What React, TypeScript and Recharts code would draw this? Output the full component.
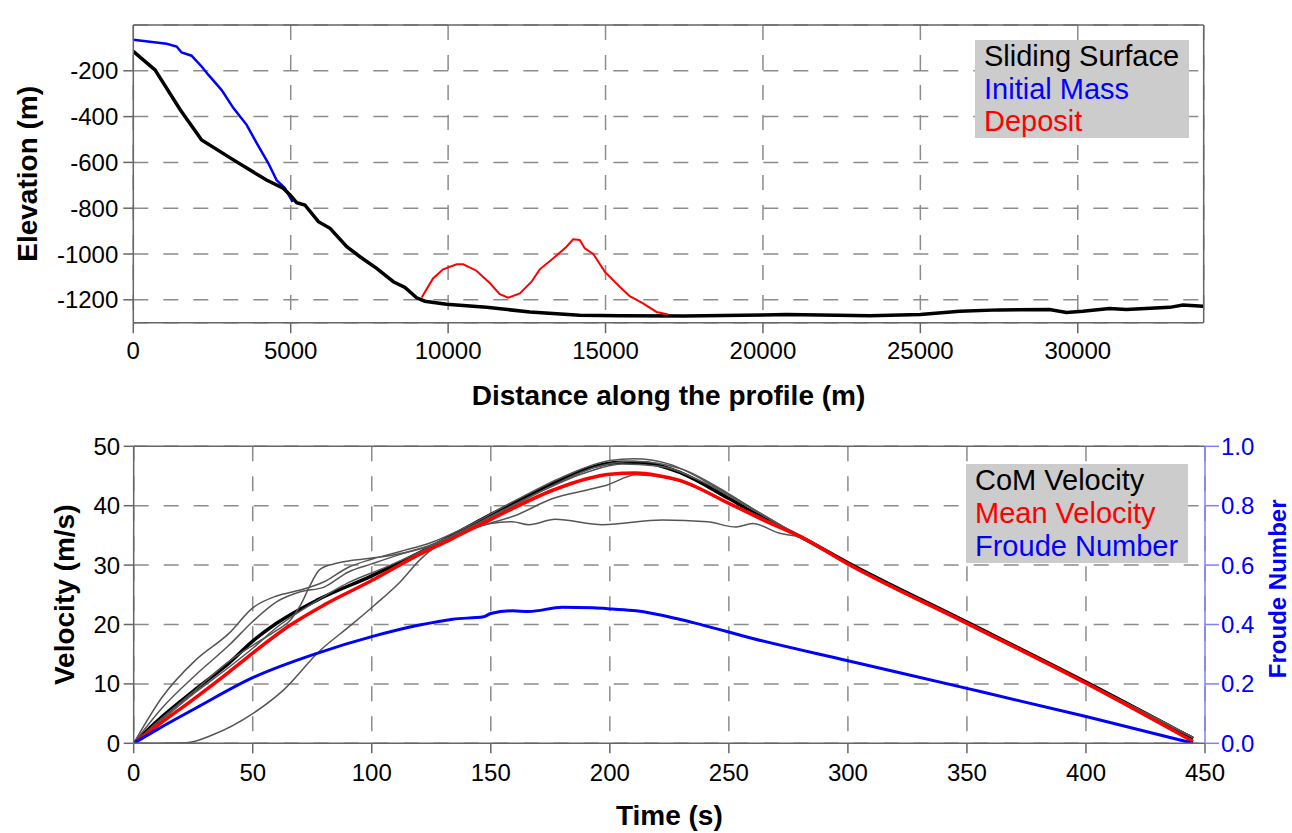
import { CartesianGrid, Legend, Line, LineChart, XAxis, YAxis } from 'recharts';

const FONT = '"Liberation Sans", Arial, Helvetica, sans-serif';

// ---- top panel: profile ----
const distTicks = [0, 5000, 10000, 15000, 20000, 25000, 30000];
const elevTicks = [-1200, -1000, -800, -600, -400, -200];

const slidingX = [0, 690, 1490, 2170, 3180, 4230, 4760, 4980, 5190, 5450, 5880, 6250, 6780, 7200, 7730, 8260, 8630, 9000, 9260, 9950, 11220, 12600, 14180, 15450, 17500, 20000, 20750, 23400, 25000, 26250, 27500, 29100, 29640, 30160, 31010, 31540, 32920, 33340, 33980];
const slidingY = [-115, -196, -370, -502, -589, -677, -713, -742, -776, -786, -859, -888, -968, -1012, -1063, -1121, -1146, -1191, -1206, -1219, -1233, -1253, -1267, -1270, -1271, -1266, -1264, -1270, -1264, -1250, -1244, -1242, -1255, -1250, -1238, -1242, -1233, -1223, -1228];

const initialX = [0, 1060, 1375, 1535, 1850, 2170, 2380, 2800, 3180, 3600, 3920, 4290, 4550, 4820, 5060];
const initialY = [-64, -82, -94, -120, -134, -181, -217, -283, -363, -436, -516, -604, -677, -713, -772];

const depositX = [9160, 9520, 9840, 10270, 10480, 10900, 11330, 11640, 11910, 12280, 12650, 12910, 13340, 13760, 13970, 14180, 14340, 14610, 14980, 15450, 15770, 16190, 16620, 16990];
const depositY = [-1190, -1107, -1067, -1045, -1045, -1073, -1128, -1175, -1191, -1172, -1121, -1067, -1019, -968, -936, -939, -975, -1000, -1078, -1143, -1184, -1216, -1253, -1264];

// ---- bottom panel: velocity ----
const timeTicks = [0, 50, 100, 150, 200, 250, 300, 350, 400, 450];
const velTicks = [0, 10, 20, 30, 40, 50];
const frTicks = [0, 0.2, 0.4, 0.6, 0.8, 1.0];

const meanT = [0, 10, 27, 40, 50, 65, 80, 100, 120, 133, 150, 176, 190, 200, 211, 220, 229, 250, 265, 280, 300, 350, 400, 445];
const meanV = [0, 3.0, 8.0, 12.0, 15.2, 19.7, 23.3, 27.4, 31.8, 34.3, 37.7, 42.6, 44.5, 45.3, 45.5, 45.1, 44.3, 40.4, 37.5, 34.8, 30.2, 20.2, 10.1, 0.3];

const comT = [0, 10, 27, 40, 50, 60, 77, 100, 125, 150, 175, 190, 205, 215, 230, 250, 265, 280, 300, 350, 400, 445];
const comV = [0, 3.8, 9.4, 13.5, 17.2, 20.2, 24.1, 28.2, 33.1, 38.5, 43.5, 46.2, 47.3, 47.2, 45.5, 41.2, 37.8, 34.8, 30.4, 20.4, 10.3, 0.8];

const frT = [0, 10, 26, 50, 77, 100, 120, 134, 147, 150, 159, 166, 180, 193, 201, 211, 228, 239, 260, 300, 350, 400, 445];
const frV = [0, 0.047, 0.118, 0.221, 0.303, 0.359, 0.398, 0.418, 0.426, 0.437, 0.446, 0.444, 0.458, 0.456, 0.452, 0.446, 0.42, 0.398, 0.353, 0.278, 0.185, 0.09, 0];

// individual (grey) velocity traces
const tailT = [300, 350, 400, 445];
const tailV = [30.3, 20.3, 10.2, 1.0];
const g1T = [0, 12, 26, 40, 50, 60, 70, 80, 90, 100, 112, 125, 140, 160, 180, 200, 210, 225, 245, 260, 280];
const g1V = [0, 7.8, 14, 18.5, 22.8, 24.8, 25.8, 27.2, 29.6, 31, 32.3, 33.8, 36.5, 40.8, 44.8, 47.6, 47.9, 47, 43, 39.5, 34.8];
const g2T = [0, 22, 33, 50, 63, 78, 91, 101, 112, 120, 130, 140, 150, 159, 166, 177, 197, 222, 241, 253, 260, 271, 280];
const g2V = [0, 0.1, 1.4, 5.0, 9.0, 15.5, 19.8, 23.2, 27.2, 30.8, 34.0, 35.8, 37.0, 37.3, 36.8, 37.7, 36.8, 37.6, 37.3, 36.4, 37.0, 35.4, 34.7];
const g3T = [0, 12, 26, 40, 50, 60, 66, 70, 74, 78, 84, 92, 100, 110, 122, 135, 150, 170, 190, 205, 220, 240, 258, 280];
const g3V = [0, 4.3, 9.0, 13.8, 16.5, 19.0, 20.8, 23.2, 26.5, 29.2, 30.2, 30.8, 31.2, 31.8, 33.0, 35.2, 38.2, 42.2, 45.6, 47.0, 46.7, 43.8, 39.8, 34.8];
const g4T = [0, 12, 26, 40, 50, 60, 75, 90, 105, 118, 130, 145, 160, 176, 190, 199, 211, 225, 250, 280];
const g4V = [0, 4, 8.6, 12.8, 16, 19.5, 23.5, 27.0, 29.5, 31.8, 34.0, 36.5, 38.3, 41.2, 42.6, 43.5, 45.2, 44.6, 40.5, 34.8];
const g5T = [0, 12, 26, 40, 50, 60, 70, 80, 90, 100, 112, 125, 140, 155, 175, 195, 210, 230, 250, 262, 280];
const g5V = [0, 6, 11.5, 16.5, 20.5, 23.8, 25.5, 26.3, 28.8, 30.2, 31.8, 33.3, 36.0, 39.0, 43.2, 46.6, 47.5, 46.2, 42.0, 39.0, 34.8];

const topLegend = [
  { name: 'Sliding Surface', color: '#000000' },
  { name: 'Initial Mass', color: '#0000ff' },
  { name: 'Deposit', color: '#ff0000' },
];
const bottomLegend = [
  { name: 'CoM Velocity', color: '#000000' },
  { name: 'Mean Velocity', color: '#ff0000' },
  { name: 'Froude Number', color: '#0000ff' },
];

const pts = (xs: number[], ys: number[], k: string) => xs.map((x, i) => ({ [k]: x, v: ys[i] }));
const withTail = (xs: number[], ys: number[]) => pts([...xs, ...tailT], [...ys, ...tailV], 't');

const greys = [
  withTail(g1T, g1V),
  withTail(g2T, g2V),
  withTail(g3T, g3V),
  withTail(g4T, g4V),
  withTail(g5T, g5V),
];

const GRID = '#8c8c8c';
const AX = '#666666';
const tickStyle = { fontSize: 24, fill: '#000' };
const titleStyle = { fontSize: 28, fontWeight: 'bold', fill: '#000' };

const LegendBox = ({ items, width, lh }: { items: { name: string; color: string }[]; width: number; lh: number }) => (
  <div
    style={{
      background: '#cccccc',
      width,
      paddingLeft: 9,
      boxSizing: 'border-box',
      fontFamily: FONT,
      fontSize: 29,
      lineHeight: `${lh}px`,
    }}
  >
    {items.map((it) => (
      <div key={it.name} style={{ color: it.color, whiteSpace: 'nowrap' }}>
        {it.name}
      </div>
    ))}
  </div>
);

const App = () => {
  return (
    <div style={{ position: 'absolute', left: 0, top: 0, width: 1292, height: 833, background: '#fff', fontFamily: FONT }}>
      <div style={{ position: 'absolute', left: 0, top: 0 }}>
        <LineChart width={1292} height={420} margin={{ top: 0, right: 0, bottom: 0, left: 0 }}>
          <CartesianGrid xAxisId="x" yAxisId="y" stroke={GRID} strokeWidth={1.5} strokeDasharray="15 15" />
          <XAxis
            xAxisId="x"
            dataKey="d"
            type="number"
            domain={[0, 34000]}
            allowDataOverflow
            ticks={distTicks}
            height={97.3}
            tickSize={10.5}
            tickMargin={9}
            stroke={AX}
            strokeWidth={1.5}
            tick={tickStyle}
            label={{ value: 'Distance along the profile (m)', position: 'insideBottom', offset: 15, ...titleStyle }}
          />
          <XAxis
            xAxisId="xt"
            orientation="top"
            dataKey="d"
            type="number"
            domain={[0, 34000]}
            allowDataOverflow
            ticks={distTicks}
            height={25}
            tick={false}
            tickSize={11}
            stroke={AX}
            strokeWidth={1.5}
          />
          <YAxis
            yAxisId="y"
            type="number"
            domain={[-1300, 0]}
            allowDataOverflow
            ticks={elevTicks}
            width={133.3}
            tickSize={10}
            tickMargin={5}
            stroke={AX}
            strokeWidth={1.5}
            tick={tickStyle}
            label={{ value: 'Elevation (m)', angle: -90, position: 'center', dx: -40, ...titleStyle }}
          />
          <YAxis
            yAxisId="yr"
            orientation="right"
            type="number"
            domain={[-1300, 0]}
            allowDataOverflow
            ticks={[-1000, -500]}
            width={88.3}
            tick={false}
            tickSize={11}
            stroke={AX}
            strokeWidth={1.5}
          />
          <Line xAxisId="x" yAxisId="y" data={pts(initialX, initialY, 'd')} dataKey="v" type="linear" stroke="#0000ff" strokeWidth={2.5} dot={false} isAnimationActive={false} legendType="none" />
          <Line xAxisId="x" yAxisId="y" data={pts(slidingX, slidingY, 'd')} dataKey="v" type="linear" stroke="#000000" strokeWidth={3.5} dot={false} isAnimationActive={false} legendType="none" />
          <Line xAxisId="x" yAxisId="y" data={pts(depositX, depositY, 'd')} dataKey="v" type="linear" stroke="#ff0000" strokeWidth={2} dot={false} isAnimationActive={false} legendType="none" />
          <Legend
            layout="vertical"
            align="center"
            verticalAlign="middle"
            wrapperStyle={{ left: 975, top: 40, width: 214 }}
            content={() => <LegendBox items={topLegend} width={214} lh={32.5} />}
          />
        </LineChart>
      </div>

      <div style={{ position: 'absolute', left: 0, top: 420 }}>
        <LineChart width={1292} height={413} margin={{ top: 0, right: 0, bottom: 0, left: 0 }}>
          <CartesianGrid xAxisId="t" yAxisId="v" stroke={GRID} strokeWidth={1.5} strokeDasharray="15 15" />
          <XAxis
            xAxisId="t"
            dataKey="t"
            type="number"
            domain={[0, 450]}
            allowDataOverflow
            ticks={timeTicks}
            height={89.7}
            tickSize={10}
            tickMargin={11}
            stroke={AX}
            strokeWidth={1.5}
            tick={tickStyle}
            label={{ value: 'Time (s)', position: 'insideBottom', offset: 8, ...titleStyle }}
          />
          <XAxis
            xAxisId="tt"
            orientation="top"
            dataKey="t"
            type="number"
            domain={[0, 450]}
            allowDataOverflow
            ticks={timeTicks}
            height={26.3}
            tick={false}
            tickSize={11}
            stroke={AX}
            strokeWidth={1.5}
          />
          <YAxis
            yAxisId="v"
            type="number"
            domain={[0, 50]}
            allowDataOverflow
            ticks={velTicks}
            width={133.7}
            tickSize={10}
            tickMargin={3.5}
            stroke={AX}
            strokeWidth={1.5}
            tick={tickStyle}
            label={{ value: 'Velocity (m/s)', angle: -90, position: 'center', dx: -3, ...titleStyle }}
          />
          <YAxis
            yAxisId="fr"
            orientation="right"
            type="number"
            domain={[0, 1]}
            allowDataOverflow
            ticks={frTicks}
            tickFormatter={(v: number) => v.toFixed(1)}
            width={87}
            tickSize={14}
            tickMargin={2}
            stroke="#7f7fff"
            strokeWidth={1.5}
            tick={{ fontSize: 24, fill: '#0000ff' }}
            label={{ value: 'Froude Number', angle: -90, position: 'center', dx: 29, dy: -6, fontSize: 24, fontWeight: 'bold', fill: '#0000ff' }}
          />
          <Line xAxisId="t" yAxisId="v" data={pts(comT, comV, 't')} dataKey="v" type="monotone" stroke="#000000" strokeWidth={3.5} dot={false} isAnimationActive={false} legendType="none" />
          {greys.map((g, i) => (
            <Line key={i} xAxisId="t" yAxisId="v" data={g} dataKey="v" type="monotone" stroke="#555555" strokeWidth={1.5} dot={false} isAnimationActive={false} legendType="none" />
          ))}
          <Line xAxisId="t" yAxisId="v" data={pts(meanT, meanV, 't')} dataKey="v" type="monotone" stroke="#ff0000" strokeWidth={3.5} dot={false} isAnimationActive={false} legendType="none" />
          <Line xAxisId="t" yAxisId="fr" data={pts(frT, frV, 't')} dataKey="v" type="monotone" stroke="#0000ff" strokeWidth={3} dot={false} isAnimationActive={false} legendType="none" />
          <Legend
            layout="vertical"
            align="center"
            verticalAlign="middle"
            wrapperStyle={{ left: 966, top: 44.3, width: 222 }}
            content={() => <LegendBox items={bottomLegend} width={222} lh={33} />}
          />
        </LineChart>
      </div>
    </div>
  );
};

export default App;
